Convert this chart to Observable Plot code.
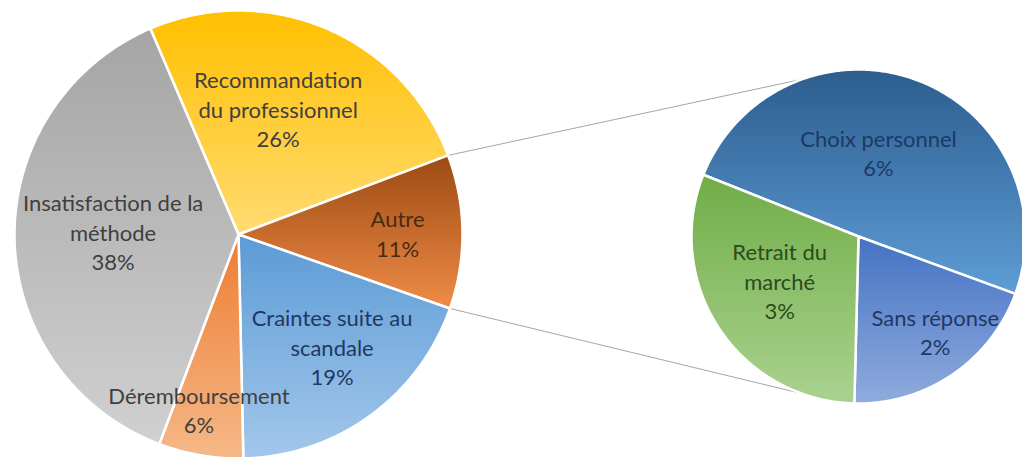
<!DOCTYPE html>
<html><head><meta charset="utf-8">
<script src="https://cdn.jsdelivr.net/npm/d3@7"></script>
<script src="https://cdn.jsdelivr.net/npm/@observablehq/plot@0.6"></script>
<style>html,body{margin:0;padding:0;background:#fff;overflow:hidden}#chart svg{display:block}</style>
</head><body><div id="chart"></div>
<script>
// ---- data ----
const mainCategories = ["Recommandation du professionnel", "Autre", "Craintes suite au scandale", "Déremboursement", "Insatisfaction de la méthode"];
const mainValues = [25.7, 11.1, 19.3, 6.1, 37.8];
const mainLabels = ["Recommandation\ndu professionnel", "Autre", "Craintes suite au\nscandale", "Déremboursement", "Insatisfaction de la\nméthode"];
const subCategories = ["Choix personnel", "Sans réponse", "Retrait du marché"];
const subValues = [5.5, 2.2, 3.4];
const subLabels = ["Choix personnel", "Sans réponse", "Retrait du\nmarché"];

// ---- layout & style ----
const W = 1022, H = 457;
const mainPie = {cx: 238, cy: 234, r: 224, start: -23.2};
const subPie = {cx: 858, cy: 236, r: 167, start: -68.3};
const mainGrad = [["#FFC000", "#FFDB72"], ["#9C4A12", "#F08C48"], ["#5B9BD5", "#A3C7EB"], ["#ED7D31", "#F6B889"], ["#A5A5A5", "#D0D0D0"]];
const subGrad = [["#2C5D8E", "#5E9DD6"], ["#4472C4", "#90ABDD"], ["#70AD47", "#AAD290"]];
const mainText = ["#3F3F3F", "#4A2A12", "#1F3864", "#404040", "#404040"];
const subText = ["#1F3864", "#1F3864", "#2E4A1E"];
const mainLabelPlace = [[-5.6, 0.59], [0, 0.71], [-4, 0.65], [3, 0.8], [2.6, 0.56]];
const subLabelPlace = [[-7.6, 0.52], [-4.8, 0.73], [4.4, 0.54]];
const connectorSubAngles = [340.5, 199.8];

function slices(values, names, cfg, prefix) {
  const total = d3.sum(values);
  let a = cfg.start;
  return values.map((v, i) => {
    const a0 = a, a1 = a + v / total * 360; a = a1;
    const pts = [{x: cfg.cx, y: cfg.cy}];
    const n = Math.ceil((a1 - a0) / 0.5);
    for (let k = 0; k <= n; k++) {
      const t = (a0 + (a1 - a0) * k / n) * Math.PI / 180;
      pts.push({x: cfg.cx + cfg.r * Math.sin(t), y: cfg.cy - cfg.r * Math.cos(t)});
    }
    pts.push({x: cfg.cx, y: cfg.cy});
    return {name: names[i], value: v, a0, a1, pts, id: `${prefix}${i}`};
  });
}
const polar = (cfg, deg, f) => {
  const t = deg * Math.PI / 180;
  return {x: cfg.cx + cfg.r * f * Math.sin(t), y: cfg.cy - cfg.r * f * Math.cos(t)};
};

const mainSlices = slices(mainValues, mainCategories, mainPie, "m");
const subSlices = slices(subValues, subCategories, subPie, "s");

const labelRows = [
  ...mainSlices.map((s, i) => {
    const p = polar(mainPie, (s.a0 + s.a1) / 2 + mainLabelPlace[i][0], mainLabelPlace[i][1]);
    return {...p, text: `${mainLabels[i]}\n${Math.round(s.value)}%`, color: mainText[i]};
  }),
  ...subSlices.map((s, i) => {
    const p = polar(subPie, (s.a0 + s.a1) / 2 + subLabelPlace[i][0], subLabelPlace[i][1]);
    return {...p, text: `${subLabels[i]}\n${Math.round(s.value)}%`, color: subText[i]};
  })
];

const autre = mainSlices[mainCategories.indexOf("Autre")];
const connectors = [
  {p1: polar(mainPie, autre.a0, 1), p2: polar(subPie, connectorSubAngles[0], 1)},
  {p1: polar(mainPie, autre.a1, 1), p2: polar(subPie, connectorSubAngles[1], 1)}
].map(c => ({x1: c.p1.x, y1: c.p1.y, x2: c.p2.x, y2: c.p2.y}));

const sliceMarks = [...mainSlices, ...subSlices].map(s =>
  Plot.line(s.pts, {x: "x", y: "y", fill: `url(#grad-${s.id})`, stroke: "#ffffff", strokeWidth: 2.5, strokeLinejoin: "round"})
);

const svg = Plot.plot({
  width: W, height: H,
  margin: 0,
  x: {domain: [0, W], range: [0, W], axis: null},
  y: {domain: [0, H], range: [0, H], axis: null},
  color: {type: "identity"},
  style: {background: "#ffffff", overflow: "hidden"},
  marks: [
    Plot.link(connectors, {x1: "x1", y1: "y1", x2: "x2", y2: "y2", stroke: "#A6A6A6", strokeWidth: 1}),
    ...sliceMarks,
    Plot.text(labelRows, {x: "x", y: "y", text: "text", fill: "color", fontSize: 22, fontFamily: "Lato, sans-serif",
      lineHeight: 1.34, textAnchor: "middle", lineAnchor: "middle"})
  ]
});

const defs = d3.select(svg).insert("defs", ":first-child");
const allGrad = [...mainSlices.map((s, i) => [s.id, mainGrad[i]]), ...subSlices.map((s, i) => [s.id, subGrad[i]])];
for (const [id, [c0, c1]] of allGrad) {
  const g = defs.append("linearGradient").attr("id", `grad-${id}`).attr("x1", 0).attr("y1", 0).attr("x2", 0).attr("y2", 1);
  g.append("stop").attr("offset", "0%").attr("stop-color", c0);
  g.append("stop").attr("offset", "100%").attr("stop-color", c1);
}
document.getElementById("chart").appendChild(svg);
</script>
</body></html>
